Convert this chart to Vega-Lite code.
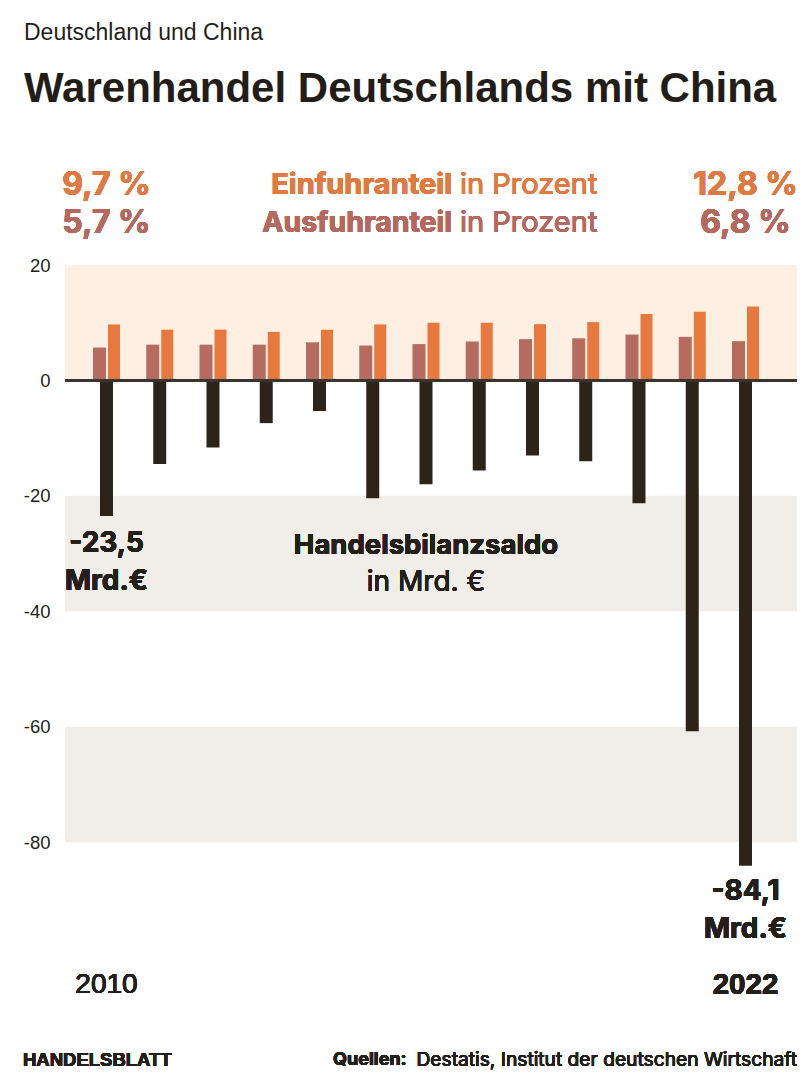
{
  "$schema": "https://vega.github.io/schema/vega-lite/v6.json",
  "width": 732,
  "height": 606,
  "autosize": {"type": "none"},
  "padding": {"left": 65, "top": 265, "right": 3, "bottom": 217},
  "background": "#ffffff",
  "config": {"view": {"stroke": null}, "font": "Liberation Sans"},
  "title": {
    "text": "Deutschland und China",
    "subtitle": "Warenhandel Deutschlands mit China",
    "anchor": "start",
    "frame": "group",
    "dx": -41,
    "offset": 59,
    "subtitlePadding": 24,
    "font": "Liberation Sans",
    "fontSize": 23,
    "fontWeight": "normal",
    "color": "#231f1a",
    "subtitleFont": "Liberation Sans",
    "subtitleFontSize": 42,
    "subtitleFontWeight": "bold",
    "subtitleColor": "#221d18"
  },
  "datasets": {
    "trade": [
      {"year": 2010, "aus": 5.7, "ein": 9.7, "saldo": -23.5},
      {"year": 2011, "aus": 6.2, "ein": 8.8, "saldo": -14.5},
      {"year": 2012, "aus": 6.2, "ein": 8.8, "saldo": -11.6},
      {"year": 2013, "aus": 6.2, "ein": 8.4, "saldo": -7.4},
      {"year": 2014, "aus": 6.6, "ein": 8.8, "saldo": -5.3},
      {"year": 2015, "aus": 6.05, "ein": 9.7, "saldo": -20.4},
      {"year": 2016, "aus": 6.3, "ein": 10.0, "saldo": -18.0},
      {"year": 2017, "aus": 6.75, "ein": 10.0, "saldo": -15.6},
      {"year": 2018, "aus": 7.15, "ein": 9.75, "saldo": -13.0},
      {"year": 2019, "aus": 7.3, "ein": 10.1, "saldo": -14.0},
      {"year": 2020, "aus": 7.95, "ein": 11.5, "saldo": -21.3},
      {"year": 2021, "aus": 7.55, "ein": 11.9, "saldo": -60.8},
      {"year": 2022, "aus": 6.8, "ein": 12.8, "saldo": -84.1}
    ],
    "bands": [
      {"von": 0, "bis": 20, "art": "positiv"},
      {"von": -20, "bis": -40, "art": "grau"},
      {"von": -60, "bis": -80, "art": "grau"}
    ]
  },
  "data": {"name": "trade"},
  "encoding": {
    "x": {"field": "year", "type": "quantitative", "scale": {"domain": [2009.221, 2022.967], "nice": false, "zero": false, "padding": 0}, "axis": null}
  },
  "layer": [
    {
      "data": {"name": "bands"},
      "mark": {"type": "rect"},
      "encoding": {
        "x": null,
        "y": {"field": "von", "type": "quantitative", "scale": {"domain": [-85, 20], "nice": false, "zero": false, "padding": 0},
          "axis": {"values": [-80, -60, -40, -20, 0, 20], "labelExpr": "'' + datum.value", "domain": false, "ticks": false, "grid": false, "labelPadding": 15, "labelFontSize": 18.5, "labelFont": "Liberation Sans", "labelColor": "#231f1a", "title": null}},
        "y2": {"field": "bis"},
        "color": {"field": "art", "type": "nominal", "scale": {"domain": ["positiv", "grau"], "range": ["#fdf0e3", "#f1eeea"]}, "legend": null}
      }
    },
    {
      "mark": {"type": "bar", "width": 13, "xOffset": -7, "color": "#b56b5f"},
      "encoding": {"y": {"field": "aus", "type": "quantitative"}}
    },
    {
      "mark": {"type": "bar", "width": 12, "xOffset": 7.5, "color": "#e8793e"},
      "encoding": {"y": {"field": "ein", "type": "quantitative"}}
    },
    {
      "mark": {"type": "bar", "width": 13, "color": "#2c2418"},
      "encoding": {"y": {"field": "saldo", "type": "quantitative"}}
    },
    {
      "mark": {"type": "rule", "color": "#3b3530", "strokeWidth": 2},
      "encoding": {"x": null, "y": {"datum": 0}}
    },
    {
      "mark": {"type": "text", "text": "9,7 %", "font": "Inter", "fontWeight": "bold", "fontSize": 32, "color": "#e07a41", "align": "center", "baseline": "middle"},
      "encoding": {"x": {"datum": 2010}, "y": {"datum": 33.86}}
    },
    {
      "mark": {"type": "text", "text": "12,8 %", "font": "Inter", "fontWeight": "bold", "fontSize": 32, "color": "#e07a41", "align": "center", "baseline": "middle"},
      "encoding": {"x": {"datum": 2022}, "y": {"datum": 33.86}}
    },
    {
      "mark": {"type": "text", "text": "5,7 %", "font": "Inter", "fontWeight": "bold", "fontSize": 32, "color": "#b5695e", "align": "center", "baseline": "middle"},
      "encoding": {"x": {"datum": 2010}, "y": {"datum": 27.28}}
    },
    {
      "mark": {"type": "text", "text": "6,8 %", "font": "Inter", "fontWeight": "bold", "fontSize": 32, "color": "#b5695e", "align": "center", "baseline": "middle"},
      "encoding": {"x": {"datum": 2022}, "y": {"datum": 27.28}}
    },
    {
      "mark": {"type": "text", "text": "Einfuhranteil", "font": "Inter", "fontWeight": "bold", "fontSize": 29, "color": "#e07a41", "align": "right", "baseline": "middle"},
      "encoding": {"x": {"datum": 2016.489}, "y": {"datum": 33.86}}
    },
    {
      "mark": {"type": "text", "text": "in Prozent", "font": "Inter", "fontWeight": "normal", "fontSize": 29, "color": "#e07a41", "align": "left", "baseline": "middle"},
      "encoding": {"x": {"datum": 2016.639}, "y": {"datum": 33.86}}
    },
    {
      "mark": {"type": "text", "text": "Ausfuhranteil", "font": "Inter", "fontWeight": "bold", "fontSize": 28.5, "color": "#b5695e", "align": "right", "baseline": "middle"},
      "encoding": {"x": {"datum": 2016.489}, "y": {"datum": 27.28}}
    },
    {
      "mark": {"type": "text", "text": "in Prozent", "font": "Inter", "fontWeight": "normal", "fontSize": 29, "color": "#b5695e", "align": "left", "baseline": "middle"},
      "encoding": {"x": {"datum": 2016.639}, "y": {"datum": 27.28}}
    },
    {
      "mark": {"type": "text", "text": "-23,5", "font": "Inter", "fontWeight": "bold", "fontSize": 28, "color": "#231f1a", "align": "center", "baseline": "middle"},
      "encoding": {"x": {"datum": 2010}, "y": {"datum": -28.35}}
    },
    {
      "mark": {"type": "text", "text": "Mrd.€", "font": "Inter", "fontWeight": "bold", "fontSize": 28, "color": "#231f1a", "align": "center", "baseline": "middle"},
      "encoding": {"x": {"datum": 2010}, "y": {"datum": -34.94}}
    },
    {
      "mark": {"type": "text", "text": "Handelsbilanzsaldo", "font": "Inter", "fontWeight": "bold", "fontSize": 27.5, "color": "#231f1a", "align": "center", "baseline": "middle"},
      "encoding": {"x": {"datum": 2016}, "y": {"datum": -28.7}}
    },
    {
      "mark": {"type": "text", "text": "in Mrd. €", "font": "Inter", "fontWeight": "normal", "fontSize": 28, "color": "#231f1a", "align": "center", "baseline": "middle"},
      "encoding": {"x": {"datum": 2016}, "y": {"datum": -35.11}}
    },
    {
      "mark": {"type": "text", "text": "-84,1", "font": "Inter", "fontWeight": "bold", "fontSize": 28, "color": "#231f1a", "align": "center", "baseline": "middle"},
      "encoding": {"x": {"datum": 2022}, "y": {"datum": -88.66}}
    },
    {
      "mark": {"type": "text", "text": "Mrd.€", "font": "Inter", "fontWeight": "bold", "fontSize": 28, "color": "#231f1a", "align": "center", "baseline": "middle"},
      "encoding": {"x": {"datum": 2022}, "y": {"datum": -95.25}}
    },
    {
      "mark": {"type": "text", "text": "2010", "font": "Liberation Sans", "fontWeight": "normal", "fontSize": 28, "color": "#231f1a", "align": "center", "baseline": "middle"},
      "encoding": {"x": {"datum": 2010}, "y": {"datum": -104.78}}
    },
    {
      "mark": {"type": "text", "text": "2022", "font": "Liberation Sans", "fontWeight": "bold", "fontSize": 29.5, "color": "#231f1a", "align": "center", "baseline": "middle"},
      "encoding": {"x": {"datum": 2022}, "y": {"datum": -104.78}}
    },
    {
      "mark": {"type": "text", "text": "HANDELSBLATT", "font": "Liberation Sans", "fontWeight": "bold", "fontSize": 18.5, "color": "#231f1a", "align": "left", "baseline": "middle"},
      "encoding": {"x": {"datum": 2008.432}, "y": {"datum": -117.76}}
    },
    {
      "mark": {"type": "text", "text": "Quellen:", "font": "Inter", "fontWeight": "bold", "fontSize": 18, "color": "#231f1a", "align": "left", "baseline": "middle"},
      "encoding": {"x": {"datum": 2014.254}, "y": {"datum": -117.76}}
    },
    {
      "mark": {"type": "text", "text": "Destatis, Institut der deutschen Wirtschaft", "font": "Inter", "fontWeight": "normal", "fontSize": 19.2, "color": "#231f1a", "align": "right", "baseline": "middle"},
      "encoding": {"x": {"datum": 2022.967}, "y": {"datum": -117.76}}
    }
  ]
}
